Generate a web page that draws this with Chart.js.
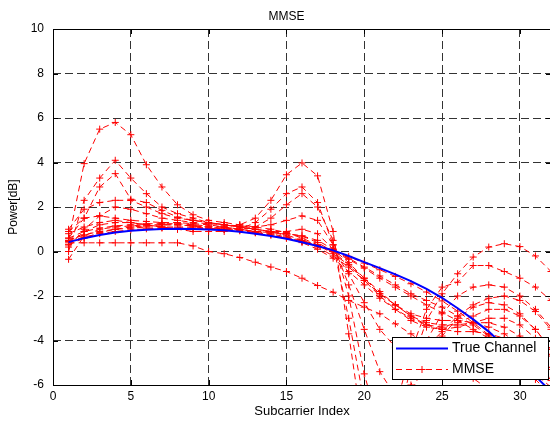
<!DOCTYPE html>
<html>
<head>
<meta charset="utf-8">
<script src="https://cdn.jsdelivr.net/npm/chart.js@4.4.0/dist/chart.umd.min.js"></script>
<style>
html, body { margin: 0; padding: 0; background: #fff; overflow: hidden; }
</style>
</head>
<body>
<canvas id="mmseChart" width="572" height="421"></canvas>
<script>
// subcarrier index on the x axis
const subcarriers = [1, 2, 3, 4, 5, 6, 7, 8, 9, 10, 11, 12, 13, 14, 15, 16,
                     17, 18, 19, 20, 21, 22, 23, 24, 25, 26, 27, 28, 29, 30, 31, 32];

const trueChannel = [0.42, 0.60, 0.74, 0.85, 0.93, 0.98, 1.01, 1.02, 1.01, 0.99, 0.95, 0.89, 0.80, 0.70, 0.57, 0.42,
                     0.25, 0.05, -0.20, -0.48, -0.75, -1.03, -1.33, -1.68, -2.08, -2.55, -3.05, -3.60, -4.25, -4.90, -5.60, -6.30];

// MMSE estimates (one curve per run)
const mmse1  = [0.50, 3.95, 5.50, 5.80, 5.25, 3.90, 2.90, 2.10, 1.65, 1.40, 1.30, 1.20, 1.10, 1.00, 0.85, 0.60,
                0.30, -0.10, -0.60, -1.20, -1.80, -2.40, -2.90, -3.30, -3.50, -3.60, -3.60, -3.70, -3.90, -4.30, -4.90, -5.70];
const mmse2  = [0.00, 2.30, 3.30, 4.10, 3.30, 2.60, 2.00, 1.70, 1.50, 1.30, 1.20, 1.10, 1.00, 0.90, 0.75, 0.50,
                0.20, -0.20, -0.70, -1.30, -1.90, -2.40, -2.90, -3.20, -3.30, -3.30, -3.20, -3.20, -3.40, -3.80, -4.40, -5.30];
const mmse3  = [0.60, 1.50, 2.90, 3.50, 2.35, 2.20, 1.85, 1.55, 1.40, 1.30, 1.20, 1.10, 1.00, 0.90, 0.70, 0.40,
                0.10, -0.30, -0.90, -1.50, -2.10, -2.60, -3.00, -3.30, -3.40, -3.20, -2.90, -2.60, -2.60, -2.90, -3.50, -4.40];
const mmse4  = [0.30, 0.90, 1.20, 1.30, 1.30, 1.20, 1.10, 1.00, 1.00, 1.00, 1.10, 1.20, 1.50, 2.30, 3.45, 3.98,
                3.40, 0.90, -3.70, -8.50, -10.00, -8.00, -5.20, -3.10, -1.90, -1.00, -0.25, 0.20, 0.35, 0.22, -0.20, -0.90];
const mmse5  = [0.80, 1.10, 1.30, 1.40, 1.30, 1.20, 1.10, 1.00, 0.90, 0.90, 0.90, 1.00, 1.30, 1.90, 2.60, 2.90,
                2.20, 0.30, -3.00, -6.80, -8.50, -7.00, -4.50, -2.60, -1.60, -1.38, -0.63, -0.63, -0.90, -1.20, -1.60, -2.20];
const mmse6  = [-0.35, 0.70, 1.00, 1.10, 1.15, 1.20, 1.20, 1.20, 1.15, 1.10, 1.00, 1.00, 1.10, 1.50, 2.10, 2.60,
                2.00, 0.50, -2.00, -5.50, -8.00, -8.00, -6.00, -4.00, -2.80, -2.00, -1.60, -1.50, -1.60, -2.00, -2.60, -3.40];
const mmse7  = [0.39, 0.39, 0.39, 0.39, 0.39, 0.39, 0.39, 0.39, 0.25, 0.00, -0.10, -0.27, -0.48, -0.70, -0.90, -1.20,
                -1.53, -1.83, -2.20, -2.50, -2.80, -3.25, -3.70, -4.20, -4.70, -5.20, -5.70, -6.20, -6.70, -7.20, -7.70, -8.20];
const mmse8  = [0.60, 0.90, 1.05, 1.15, 1.20, 1.25, 1.25, 1.25, 1.20, 1.15, 1.10, 1.00, 0.90, 0.80, 0.65, 0.50,
                0.30, 0.05, -0.30, -0.70, -1.10, -1.50, -1.90, -2.20, -2.50, -2.90, -3.30, -3.80, -4.30, -4.90, -5.60, -6.30];
const mmse9  = [0.50, 0.75, 0.90, 1.00, 1.05, 1.10, 1.10, 1.10, 1.10, 1.05, 1.00, 0.95, 0.85, 0.75, 0.60, 0.45,
                0.25, 0.00, -0.35, -0.75, -1.20, -1.60, -2.00, -2.40, -2.75, -3.10, -3.50, -3.90, -4.40, -4.90, -5.50, -6.10];
const mmse10 = [0.90, 1.50, 1.60, 1.50, 1.40, 1.35, 1.30, 1.30, 1.25, 1.20, 1.10, 1.00, 0.90, 0.85, 0.80, 0.70,
                0.50, 0.10, -0.50, -1.20, -1.90, -2.40, -2.80, -3.00, -3.10, -3.10, -3.20, -3.40, -3.70, -4.20, -4.90, -5.80];
const mmse11 = [0.20, 1.00, 1.60, 2.00, 1.90, 1.70, 1.50, 1.40, 1.30, 1.25, 1.20, 1.15, 1.10, 1.20, 1.40, 1.60,
                1.40, 0.30, -1.50, -3.50, -5.40, -6.50, -6.30, -5.00, -3.80, -3.00, -2.50, -2.30, -2.40, -2.80, -3.50, -4.40];
const mmse12 = [1.00, 1.90, 2.20, 2.30, 2.30, 2.00, 1.70, 1.50, 1.40, 1.30, 1.20, 1.10, 1.00, 0.90, 0.80, 0.70,
                0.40, 0.00, -0.60, -1.30, -2.00, -2.60, -3.10, -3.40, -3.50, -3.40, -3.20, -3.00, -3.00, -3.30, -3.90, -4.70];
const mmse13 = [0.30, 0.60, 0.85, 1.00, 1.10, 1.15, 1.20, 1.20, 1.15, 1.10, 1.05, 1.00, 0.90, 0.90, 0.90, 1.00,
                0.80, 0.10, -1.00, -2.30, -3.50, -4.30, -4.60, -4.30, -3.60, -2.90, -2.40, -2.10, -2.00, -2.20, -2.70, -3.50];
const mmse14 = [0.45, 0.65, 0.80, 0.90, 0.97, 1.02, 1.05, 1.06, 1.05, 1.03, 0.99, 0.93, 0.84, 0.74, 0.60, 0.45,
                0.27, 0.05, -0.22, -0.52, -0.82, -1.12, -1.45, -1.82, -2.22, -2.68, -3.20, -3.75, -4.40, -5.05, -5.75, -6.45];

const mmseRuns = [mmse1, mmse2, mmse3, mmse4, mmse5, mmse6, mmse7,
                  mmse8, mmse9, mmse10, mmse11, mmse12, mmse13, mmse14];

const xTicks = [0, 5, 10, 15, 20, 25, 30];
const yTicks = [-6, -4, -2, 0, 2, 4, 6, 8, 10];

const FONT = "'Liberation Sans', Arial, sans-serif";

function toPoints(values) {
    return subcarriers.map((x, i) => ({ x: x, y: values[i] }));
}

const datasets = [{
    label: 'True Channel',
    data: toPoints(trueChannel),
    borderColor: '#0000ff',
    borderWidth: 2,
    pointRadius: 0,
    fill: false
}];
mmseRuns.forEach(run => {
    datasets.push({
        label: 'MMSE',
        data: toPoints(run),
        borderColor: '#ff0000',
        borderWidth: 1,
        borderDash: [6, 4],
        pointStyle: 'cross',
        pointRadius: 3.5,
        pointBorderWidth: 1,
        pointBorderColor: '#ff0000',
        fill: false
    });
});

// black axes box with inward ticks, matlab style
const axesBox = {
    id: 'axesBox',
    afterLayout(chart) {
        // the figure title sits a bit left of the axes centre in the original
        const t = chart.titleBlock;
        if (t) { t.left += 11; t.right += 11; }
    },
    afterDraw(chart) {
        const { ctx, chartArea: a, scales } = chart;
        ctx.save();
        ctx.strokeStyle = '#000';
        ctx.lineWidth = 1;
        ctx.setLineDash([]);
        ctx.strokeRect(Math.round(a.left) + 0.5, Math.round(a.top) + 0.5,
                       Math.round(a.right - a.left), Math.round(a.bottom - a.top));
        ctx.beginPath();
        xTicks.forEach(v => {
            const px = Math.round(scales.x.getPixelForValue(v)) + 0.5;
            ctx.moveTo(px, a.bottom); ctx.lineTo(px, a.bottom - 5);
            ctx.moveTo(px, a.top); ctx.lineTo(px, a.top + 5);
        });
        yTicks.forEach(v => {
            const py = Math.round(scales.y.getPixelForValue(v)) + 0.5;
            ctx.moveTo(a.left, py); ctx.lineTo(a.left + 5, py);
            ctx.moveTo(a.right, py); ctx.lineTo(a.right - 5, py);
        });
        ctx.stroke();
        ctx.restore();
    }
};

// legend drawn inside the plot, lower right
const innerLegend = {
    id: 'innerLegend',
    afterDraw(chart) {
        const { ctx, chartArea: a } = chart;
        const ds = chart.data.datasets;
        const x = a.left + 339, y = a.bottom - 48, w = 156, h = 42;
        ctx.save();
        ctx.fillStyle = '#fff';
        ctx.fillRect(x, y, w, h);
        ctx.strokeStyle = '#000';
        ctx.lineWidth = 1;
        ctx.strokeRect(x + 0.5, y + 0.5, w, h);

        const rows = [ds[0], ds[1]];
        rows.forEach((d, i) => {
            const ry = y + 11.5 + i * 21;
            ctx.strokeStyle = d.borderColor;
            ctx.lineWidth = d.borderWidth;
            ctx.setLineDash(d.borderDash || []);
            ctx.beginPath();
            ctx.moveTo(x + 4, ry);
            ctx.lineTo(x + 56, ry);
            ctx.stroke();
            ctx.setLineDash([]);
            if (d.pointStyle === 'cross') {
                ctx.lineWidth = 1;
                ctx.beginPath();
                ctx.moveTo(x + 30 - 3.5, ry); ctx.lineTo(x + 30 + 3.5, ry);
                ctx.moveTo(x + 30, ry - 3.5); ctx.lineTo(x + 30, ry + 3.5);
                ctx.stroke();
            }
            ctx.fillStyle = '#000';
            ctx.font = '14px ' + FONT;
            ctx.textBaseline = 'middle';
            ctx.textAlign = 'left';
            ctx.fillText(d.label, x + 60, ry);
        });
        ctx.restore();
    }
};

const ctx = document.getElementById('mmseChart').getContext('2d');
const mmseChart = new Chart(ctx, {
    type: 'line',
    data: { datasets: datasets },
    options: {
        responsive: false,
        animation: false,
        devicePixelRatio: 1,
        layout: { padding: { left: 0, right: 21, top: 0, bottom: 0 } },
        plugins: {
            legend: { display: false },
            tooltip: { enabled: false },
            title: {
                display: true,
                text: 'MMSE',
                color: '#000',
                font: { family: FONT, size: 12, weight: 'normal' },
                padding: { top: 9, bottom: 5.6 }
            }
        },
        scales: {
            x: {
                type: 'linear',
                min: 0,
                max: 32,
                afterBuildTicks: s => { s.ticks = xTicks.map(v => ({ value: v })); },
                afterFit: s => { s.height = 36; },
                grid: { color: '#333', lineWidth: 1, drawTicks: false },
                border: { display: false, dash: [8, 4] },
                ticks: { color: '#000', padding: 4, font: { family: FONT, size: 12 } },
                title: {
                    display: true,
                    text: 'Subcarrier Index',
                    color: '#000',
                    font: { family: FONT, size: 13 },
                    padding: { top: 0, bottom: 2 }
                }
            },
            y: {
                type: 'linear',
                min: -6,
                max: 10,
                afterBuildTicks: s => { s.ticks = yTicks.map(v => ({ value: v })); },
                afterFit: s => { s.width = 53; },
                grid: { color: '#333', lineWidth: 1, drawTicks: false },
                border: { display: false, dash: [8, 4] },
                ticks: { color: '#000', padding: 9, font: { family: FONT, size: 12 } },
                title: {
                    display: true,
                    text: 'Power[dB]',
                    color: '#000',
                    font: { family: FONT, size: 12 },
                    padding: { top: 6, bottom: 0 }
                }
            }
        }
    },
    plugins: [axesBox, innerLegend]
});
</script>
</body>
</html>
